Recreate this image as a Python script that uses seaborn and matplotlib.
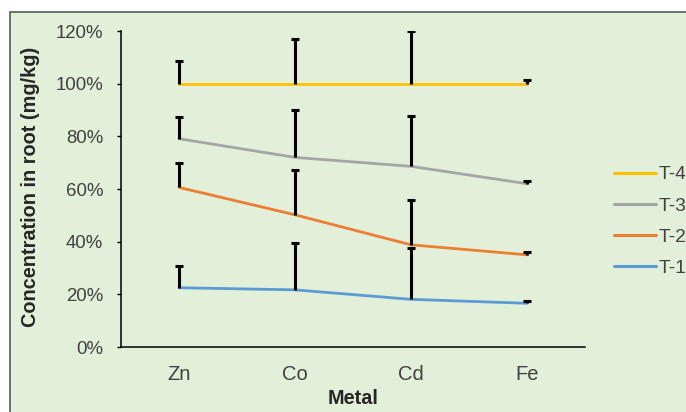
import numpy as np
import pandas as pd
import matplotlib
matplotlib.use("Agg")
import matplotlib.pyplot as plt
from matplotlib.patches import Rectangle
from matplotlib.ticker import FuncFormatter
import seaborn as sns

metals = ["Zn", "Co", "Cd", "Fe"]
series = ["T-4", "T-3", "T-2", "T-1"]
t4 = [100.0, 100.0, 100.0, 100.0]
t3 = [79.1, 72.0, 68.6, 62.0]
t2 = [60.6, 50.2, 38.8, 35.0]
t1 = [22.5, 21.7, 18.1, 16.6]
t4_err = [8.7, 17.1, 19.9, 1.3]
t3_err = [8.2, 17.9, 19.3, 1.2]
t2_err = [9.2, 17.1, 17.1, 0.9]
t1_err = [8.4, 17.7, 19.4, 0.9]
y_ticks = [0, 20, 40, 60, 80, 100, 120]

values = {"T-4": t4, "T-3": t3, "T-2": t2, "T-1": t1}
errors = {"T-4": t4_err, "T-3": t3_err, "T-2": t2_err, "T-1": t1_err}
colors = {"T-4": "#FFC000", "T-3": "#A5A5A5", "T-2": "#ED7D31", "T-1": "#5B9BD5"}

rows = []
for s in series:
    for m, v in zip(metals, values[s]):
        rows.append({"Metal": m, "Value": v, "Series": s})
df = pd.DataFrame(rows)

sns.set_style("white")
plt.rcParams["font.family"] = ["Liberation Sans", "DejaVu Sans"]

W, H = 686, 412
fig = plt.figure(figsize=(W / 100, H / 100), dpi=100)
fig.patch.set_facecolor("white")
bg = Rectangle((10 / W, -0.02), 1.0, 1 - 12 / H + 0.02, transform=fig.transFigure,
               facecolor="#E2EFD9", edgecolor="#595959", linewidth=1.2, zorder=-5)
fig.patches.append(bg)

ax = fig.add_axes([121 / W, 1 - 347 / H, (585 - 121) / W, (347 - 31) / H])
ax.set_facecolor("none")
ax.set_zorder(2)

sns.lineplot(data=df, x="Metal", y="Value", hue="Series", hue_order=series,
             palette=colors, linewidth=2.0, ax=ax, legend=True, sort=False, zorder=2)

for s in series:
    err = np.array(errors[s])
    _, caps, _ = ax.errorbar(metals, values[s], yerr=[np.zeros_like(err), err],
                             fmt="none", ecolor="black", elinewidth=2.2,
                             capsize=3.0, capthick=2.2, zorder=3)
    caps[0].set_visible(False)

ax.set_xlim(-0.5, 3.5)
ax.set_ylim(0, 120)
ax.set_yticks(y_ticks)
ax.yaxis.set_major_formatter(FuncFormatter(lambda v, p: f"{v:.0f}%"))

for side in ["top", "right"]:
    ax.spines[side].set_visible(False)
for side in ["left", "bottom"]:
    ax.spines[side].set_color("black")
    ax.spines[side].set_linewidth(1.1)

ax.tick_params(axis="y", length=3.2, width=1.0, color="black", labelsize=13.4,
               labelcolor="#404040", pad=9.5, left=True)
ax.tick_params(axis="x", length=0, labelsize=14.5, labelcolor="#404040", pad=13)

ax.set_xlabel("Metal", fontsize=14.3, fontweight="bold", color="#262626")
ax.set_ylabel("Concentration in root (mg/kg)", fontsize=14.3, fontweight="bold",
              color="#262626")
ax.yaxis.set_label_coords((40 - 121) / (585 - 121), (347 - 187) / (347 - 31))
ax.xaxis.set_label_coords(0.5, -(389 - 347) / (347 - 31))

leg = ax.legend(loc="center left", bbox_to_anchor=(614 / W, 1 - 221.5 / H),
                bbox_transform=fig.transFigure, frameon=False, fontsize=13.8,
                handlelength=2.2, handletextpad=0.15, labelspacing=0.72,
                borderpad=0, borderaxespad=0)
for line in leg.get_lines():
    line.set_linewidth(2.2)
for t in leg.get_texts():
    t.set_color("#404040")

fig.savefig("out.png", dpi=100)
